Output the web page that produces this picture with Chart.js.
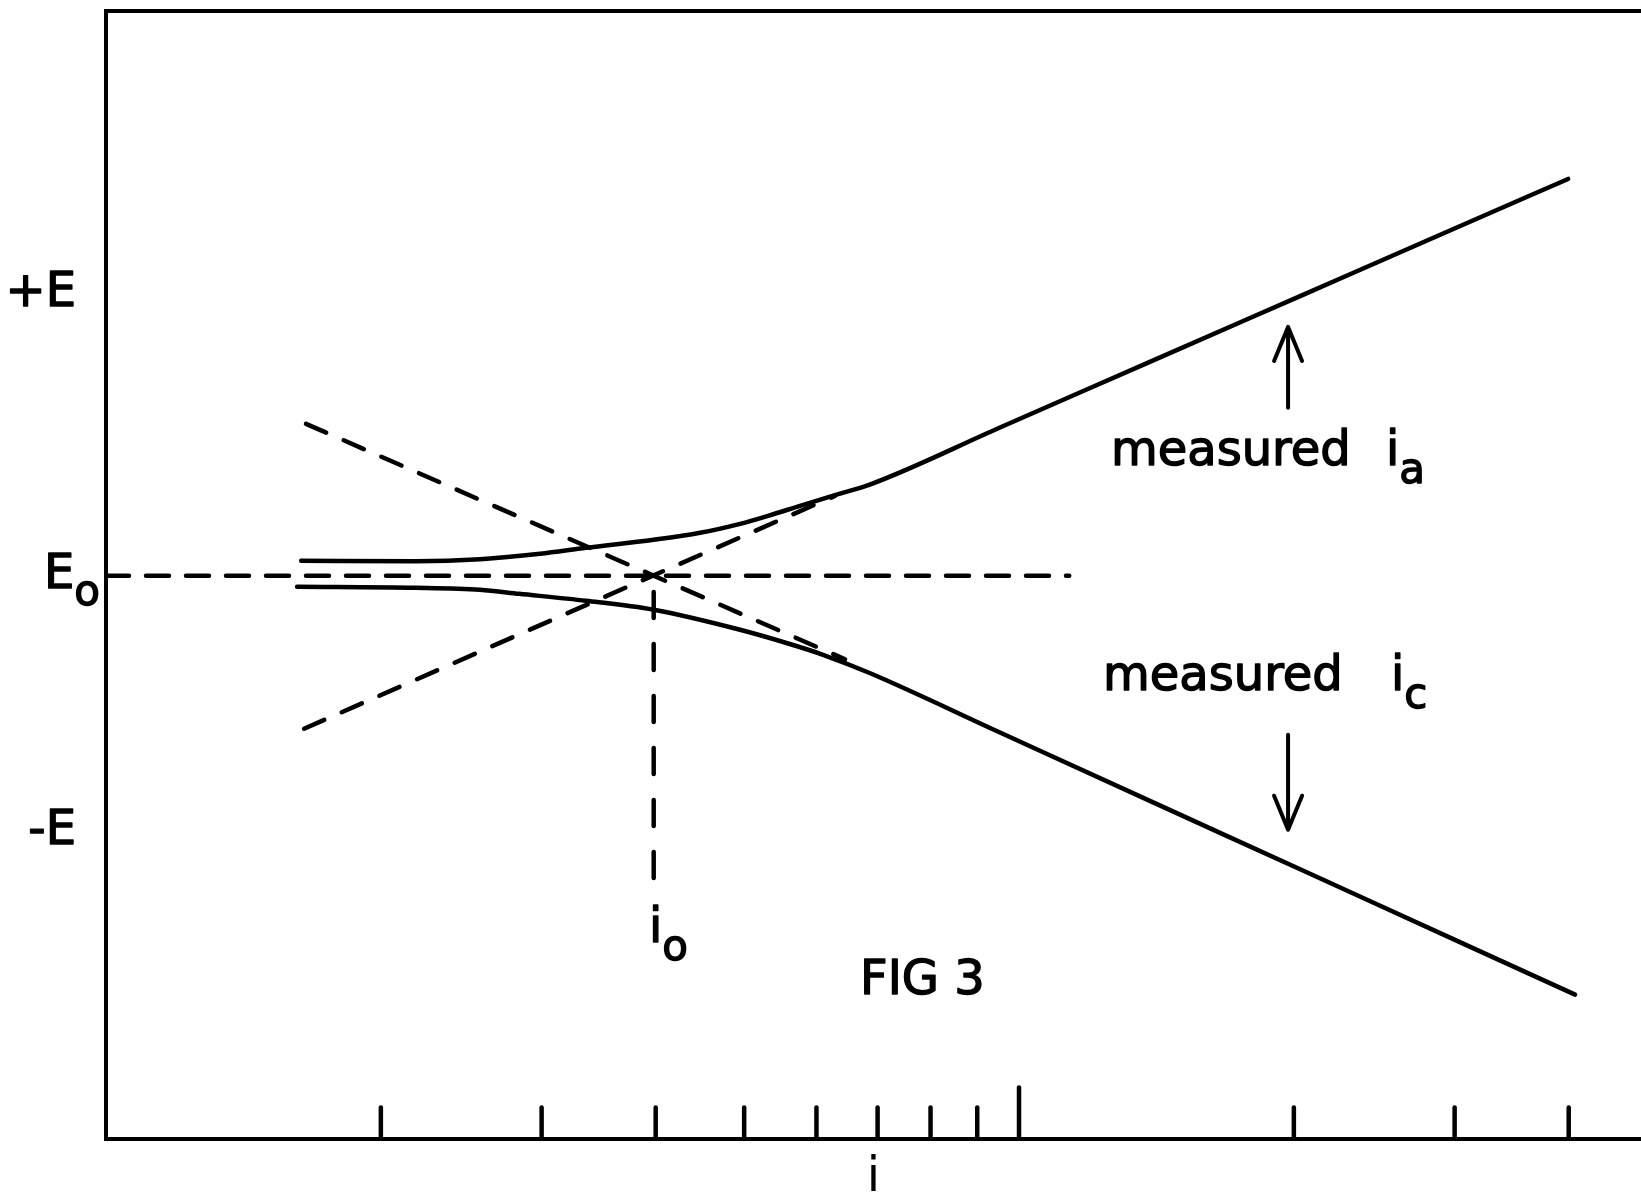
<!DOCTYPE html>
<html>
<head>
<meta charset="utf-8">
<script src="https://cdn.jsdelivr.net/npm/chart.js@4/dist/chart.umd.min.js"></script>
<style>
html,body{margin:0;padding:0;background:#fff}
#wrap{width:1641px;height:1199px}
</style>
</head>
<body>
<div id="wrap"><canvas id="fig"></canvas></div>
<script>
const $ = s => document.querySelector(s);
const FONT = "'DejaVu Sans', sans-serif";
const INK = '#000';

// i runs on a log axis, E is the offset from E0
const X_RANGE = [1, 48];
const Y_RANGE = [-281.5, 282.5];
const X_TICKS = [2, 3, 4, 5, 6, 7, 8, 9, 10, 20, 30, 40];
const Y_TICKS = [141, 0, -128];
const Y_TICK_LABELS = [['+E', ''], ['E', 'o'], ['-E', '']];

const I_ZERO = 3.98;

// measured anodic branch (curved foot, then the straight Tafel part)
const measuredA = [
  {x:1.636,y:7.5},{x:2.186,y:7.3},{x:2.568,y:8.3},{x:2.988,y:11},{x:3.356,y:14},
  {x:3.98,y:18},{x:4.474,y:21.5},{x:4.948,y:26},{x:5.311,y:30},{x:5.756,y:35},
  {x:6.351,y:41},{x:6.851,y:45.5},{x:9.532,y:74.2},{x:13.91,y:107},{x:20.32,y:139.9},
  {x:29.65,y:172.7},{x:39.94,y:198.5}
];
// measured cathodic branch
const measuredC = [
  {x:1.619,y:-5.5},{x:2.186,y:-6},{x:2.568,y:-7},{x:2.834,y:-9},{x:3.356,y:-12.5},
  {x:3.98,y:-17},{x:4.948,y:-27},{x:5.598,y:-34},{x:6.100,y:-39.5},{x:6.851,y:-48.5},
  {x:9.532,y:-78.4},{x:13.91,y:-112.6},{x:20.32,y:-146.8},{x:29.65,y:-181},
  {x:40.65,y:-209.5}
];
// Tafel extrapolations
const tafelA = [{x:1.648,y:-76.5},{x:6.287,y:40}];
const tafelC = [{x:1.656,y:76},{x:6.448,y:-41.75}];
const lineE0 = [{x:1,y:0},{x:11.35,y:0}];
const lineI0 = [{x:I_ZERO,y:0},{x:I_ZERO,y:-154}];

const arrows = [{x:19.71,from:84,to:124.5},{x:19.71,from:-79.5,to:-127}];
const notes = [
  {x:12.61,y:55.5,text:'measured'},
  {x:25.23,y:55.5,text:'i',sub:'a'},
  {x:12.36,y:-57,text:'measured'},
  {x:25.55,y:-57,text:'i',sub:'c'},
  {x:3.933,y:-183,text:'i',sub:'o'},
  {x:6.697,y:-209,text:'FIG 3'}
];

const solid = data => ({data, borderColor:INK, borderWidth:4.5, pointRadius:0, fill:false,
  cubicInterpolationMode:'monotone', borderCapStyle:'round', borderJoinStyle:'round'});
const dashed = (data, dash, offset=0) => ({data, borderColor:INK, borderWidth:4.5, pointRadius:0,
  fill:false, borderDash:dash, borderDashOffset:offset, borderCapStyle:'round'});

/* ticks drawn inward, arrows and lettering */
const extras = {
  id:'extras',
  afterDraw(chart){
    const {ctx, chartArea:a, scales:{x, y}} = chart;
    ctx.save();
    ctx.strokeStyle = INK; ctx.fillStyle = INK; ctx.lineCap = 'round'; ctx.lineJoin = 'round';

    ctx.lineWidth = 4.5;
    X_TICKS.forEach(v => {
      const px = x.getPixelForValue(v);
      const len = Number.isInteger(Math.log10(v)) ? 51 : 31;
      ctx.beginPath(); ctx.moveTo(px, a.bottom); ctx.lineTo(px, a.bottom - len); ctx.stroke();
    });

    ctx.lineWidth = 4;
    arrows.forEach(r => {
      const px = x.getPixelForValue(r.x), y0 = y.getPixelForValue(r.from), y1 = y.getPixelForValue(r.to);
      const d = Math.sign(y1 - y0);
      ctx.beginPath(); ctx.moveTo(px, y0); ctx.lineTo(px, y1);
      ctx.moveTo(px - 14, y1 - d*34); ctx.lineTo(px, y1); ctx.lineTo(px + 14, y1 - d*34);
      ctx.stroke();
    });

    // pen lettering is heavier than the font, so outline it a little
    ctx.lineWidth = 1.4;
    const put = (s, px, py, size) => {
      ctx.font = `${size}px ${FONT}`;
      ctx.fillText(s, px, py); ctx.strokeText(s, px, py);
      return ctx.measureText(s).width;
    };
    ctx.textAlign = 'left'; ctx.textBaseline = 'alphabetic';
    notes.forEach(n => {
      const px = x.getPixelForValue(n.x), py = y.getPixelForValue(n.y);
      const w = put(n.text, px, py, 48);
      if (n.sub) put(n.sub, px + w, py + 18, 42);
    });

    ctx.textBaseline = 'middle';
    Y_TICKS.forEach((v, i) => {
      const [main, sub] = Y_TICK_LABELS[i];
      const py = y.getPixelForValue(v);
      ctx.font = `48px ${FONT}`; const wm = ctx.measureText(main).width;
      ctx.font = `42px ${FONT}`; const ws = sub ? ctx.measureText(sub).width : 0;
      const right = a.left - (sub ? 6 : 30);
      put(main, right - wm - ws, py, 48);
      if (sub) put(sub, right - ws, py + 18, 42);
    });
    ctx.restore();
  }
};

const hidden = {display:false};
const noGrid = {display:true, drawOnChartArea:false, drawTicks:false};
const edge = {display:true, color:INK, width:4};

new Chart($('#fig'), {
  type:'line',
  data:{datasets:[
    dashed(lineE0, [23, 17]),
    dashed(lineI0, [26, 26], 35.75),
    dashed(tafelA, [22, 19.1]),
    dashed(tafelC, [22, 19.1]),
    solid(measuredA),
    solid(measuredC)
  ]},
  options:{
    responsive:true, maintainAspectRatio:false, animation:false, events:[],
    layout:{padding:{left:106, right:0, top:11, bottom:0}},
    plugins:{legend:hidden, tooltip:{enabled:false}},
    scales:{
      x:{type:'logarithmic', position:'bottom', min:X_RANGE[0], max:X_RANGE[1],
         ticks:hidden, grid:noGrid, border:edge,
         title:{display:true, text:'i', color:INK, padding:{top:21, bottom:1},
                font:{family:FONT, size:48, lineHeight:0.8}}},
      xTop:{type:'logarithmic', position:'top', min:X_RANGE[0], max:X_RANGE[1],
         ticks:hidden, grid:noGrid, border:edge},
      y:{type:'linear', position:'left', min:Y_RANGE[0], max:Y_RANGE[1],
         ticks:hidden, grid:noGrid, border:edge}
    }
  },
  plugins:[extras]
});
</script>
</body>
</html>
